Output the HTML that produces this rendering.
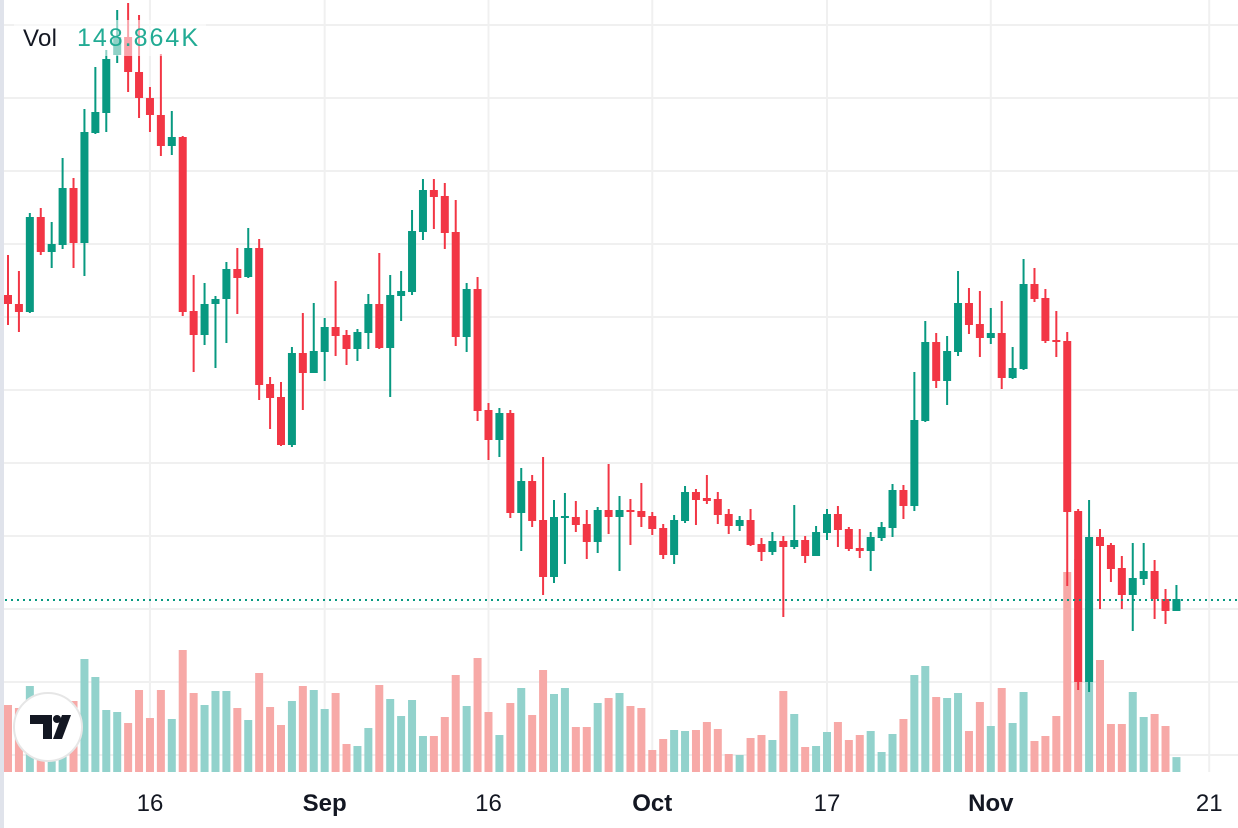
<!DOCTYPE html>
<html><head><meta charset="utf-8"><style>
html,body{margin:0;padding:0;background:#fff;}
svg{display:block;font-family:"Liberation Sans",sans-serif;}
</style></head><body>
<svg id="chart" width="1238" height="828" viewBox="0 0 1238 828" xmlns="http://www.w3.org/2000/svg">
<rect width="1238" height="828" fill="#fff"/>
<rect x="0" y="0" width="4" height="828" fill="#e0e3eb"/>
<g id="grid"></g>
<g id="vols"></g>
<g id="candles"></g>
<line x1="5" y1="600" x2="1238" y2="600" stroke="#089981" stroke-width="2" stroke-dasharray="2 4"/>
<g>
<rect x="14" y="20" width="192" height="36" fill="rgba(255,255,255,0.55)"/>
<text x="23" y="46" font-size="24" fill="#131722" textLength="34">Vol</text>
<text x="77" y="46" font-size="25" fill="#22ab94" textLength="121">148.864K</text>
</g>
<g>
<circle cx="48" cy="727" r="34" fill="#fff" stroke="#e6e6e6" stroke-width="2"/>
<path d="M30 715 H52 V739 H43 V724 H30 Z" fill="#131722"/>
<circle cx="57" cy="719" r="4" fill="#131722"/>
<path d="M62 715 H71 L62 739 H53 Z" fill="#131722"/>
</g>
<g id="xaxis"></g>
</svg>
<script>
const NS="http://www.w3.org/2000/svg";
// price values (arbitrary units) per day, Aug 3 .. Nov 18
const opens=[505,496,488,583,548,555,612,557,667,687,745,763,728,702,685,654,663,489,465,496,501,531,523,552,416,403,355,447,427,448,473,465,451,467,496,452,504,508,568,610,604,568,463,511,390,360,387,287,319,280,223,282,283,276,258,290,283,290,289,284,272,245,279,308,302,301,286,274,280,256,248,259,253,260,244,267,286,271,252,249,262,272,310,294,379,458,419,448,497,476,462,467,422,431,516,502,460,459,289,118,263,255,232,205,221,229,201,189];
const highs=[545,529,587,592,578,642,622,691,733,750,790,797,785,713,746,689,664,525,517,504,538,552,572,561,423,418,453,487,497,482,519,470,471,506,547,525,529,590,621,621,617,600,517,523,397,392,390,332,325,343,300,307,299,290,293,336,304,301,317,288,276,285,314,311,325,308,291,284,291,262,268,264,295,264,274,291,294,273,271,268,278,316,315,428,479,467,464,529,512,509,492,499,453,541,532,511,489,468,291,300,271,257,244,257,257,240,211,215];
const lows=[475,468,487,545,532,551,532,524,666,668,737,708,682,668,644,645,484,428,455,432,457,486,522,400,371,354,353,390,427,419,444,435,439,451,451,403,479,505,560,571,551,454,448,379,340,343,282,249,273,205,217,236,268,241,247,266,229,255,273,265,241,236,277,275,296,276,266,269,254,239,245,183,251,237,244,260,253,249,242,229,259,263,281,289,378,412,395,444,466,443,456,411,421,430,498,457,443,214,110,108,191,218,191,169,215,181,176,189];
const closes=[496,488,583,548,556,612,557,668,688,741,763,728,702,685,654,663,488,465,496,501,531,522,552,415,402,355,447,427,449,473,464,451,468,496,452,505,509,569,610,603,567,463,511,389,360,387,287,319,279,223,283,284,275,258,290,283,290,288,283,271,245,280,308,300,299,285,274,280,255,248,259,253,260,244,268,286,270,251,249,263,273,310,294,380,458,419,449,497,475,462,467,422,432,516,501,459,458,288,118,263,254,231,205,222,229,201,189,201];
const volumes=[670,640,860,570,420,470,710,1130,950,620,600,490,820,540,820,530,1220,790,670,810,810,640,520,990,650,470,710,860,820,630,790,280,260,440,870,730,560,720,360,360,550,970,660,1140,600,370,690,840,570,1020,780,840,450,450,690,740,790,660,640,220,330,420,410,420,500,430,180,170,340,370,320,810,580,250,260,400,500,320,370,410,200,380,530,970,1060,750,740,790,410,700,460,840,490,800,310,360,560,2000,2130,1690,1120,480,480,800,550,580,460,149];
const tickLabels=["16","Sep","16","Oct","17","Nov","21"];
const tickDays=[13,29,44,59,75,90,110];
const tickBold=[false,true,false,true,false,true,false];

const x0=8, step=10.92;
function xScale(i){return x0+i*step;}
function yScale(p){return 800-p;}
function vScale(v){return 772-v/10;}
const G=document.getElementById('grid'),C=document.getElementById('candles'),V=document.getElementById('vols'),X=document.getElementById('xaxis');
function mk(tag,attrs,parent){const e=document.createElementNS(NS,tag);for(const k in attrs)e.setAttribute(k,attrs[k]);parent.appendChild(e);return e;}
for(let k=0;k<11;k++){const l=mk('line',{x1:4,x2:1238,y1:25+k*73,y2:25+k*73,stroke:'#f0f0f0','stroke-width':2},G);

}
tickDays.forEach((d,i)=>{const x=xScale(d);
const l=mk('line',{x1:x,x2:x,y1:0,y2:772,stroke:'#f0f0f0','stroke-width':2},G);


const t=mk('text',{x:x,y:811,'text-anchor':'middle','font-size':24,fill:'#131722','font-weight':tickBold[i]?'bold':'normal'},X);
t.textContent=tickLabels[i];

});
for(let i=0;i<opens.length;i++){
const up=closes[i]>=opens[i];const col=up?'#089981':'#f23645';const x=xScale(i);
const vb=mk('rect',{x:x-4,y:vScale(volumes[i]),width:8,height:772-vScale(volumes[i]),fill:up?'#92d2cc':'#f7a9a7'},V);


const w=mk('rect',{x:x-1,y:yScale(highs[i]),width:2,height:yScale(lows[i])-yScale(highs[i]),fill:col},C);


const top=yScale(Math.max(opens[i],closes[i])),bot=yScale(Math.min(opens[i],closes[i]));
const b=mk('rect',{x:x-4,y:top,width:8,height:Math.max(2,bot-top),fill:col},C);


}
</script>
</body></html>
